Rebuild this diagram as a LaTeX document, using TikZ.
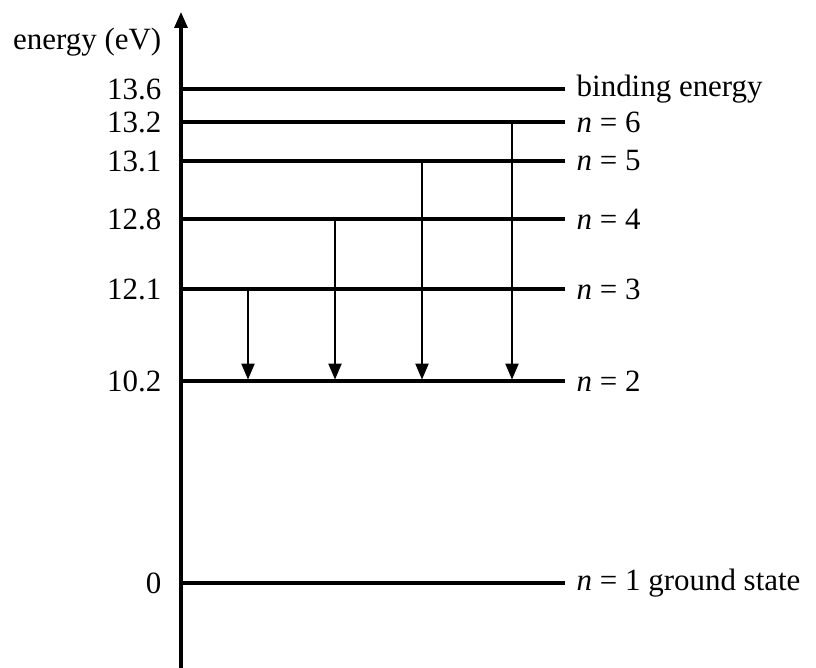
\documentclass[tikz,border=0pt]{standalone}
\usepackage{fontspec}
\setmainfont{Liberation Serif}
\usetikzlibrary{arrows.meta}

\begin{document}
\begin{tikzpicture}[x=0.01cm,y=-0.01cm,>={Triangle[length=0.16cm,width=0.13cm]}]
  \tikzstyle{level}=[line width=0.9pt]
  \tikzstyle{trans}=[line width=0.6pt,->,shorten >=0.4pt]
  \tikzstyle{val}=[anchor=east,inner sep=0pt,font=\fontsize{8.8}{11}\selectfont]
  \tikzstyle{lbl}=[anchor=west,inner sep=0pt,font=\fontsize{8.8}{11}\selectfont]
  \useasboundingbox (0,0) rectangle (816,668);
  % energy axis
  \coordinate (ax0) at (181,668);
  \coordinate (ax1) at (181,12);
  \draw[level,->] (ax0) -- (ax1);
  \node[val] (axlbl) at (162,42) {energy (eV)};
  % levels
  \foreach \y/\v/\t/\nm in {89/13.6/binding energy/lb,
                             122/13.2/{\textit{n} = 6}/l6,
                             161/13.1/{\textit{n} = 5}/l5,
                             219/12.8/{\textit{n} = 4}/l4,
                             289/12.1/{\textit{n} = 3}/l3,
                             381/10.2/{\textit{n} = 2}/l2,
                             583/0/{\textit{n} = 1 ground state}/l1}
  {
    \coordinate (\nm a) at (181,\y);
    \coordinate (\nm b) at (565,\y);
    \draw[level] (\nm a) -- (\nm b);
    \node[val] (\nm v) at (162,\y) {\v};
    \node[lbl] (\nm t) at (576,\y) {\t};
  }
  % transitions down to n=2
  \foreach \x/\nm in {248/l3,335/l4,422/l5,512/l6}
    \draw[trans] (\nm a -| \x,0) -- (l2a -| \x,0);
\end{tikzpicture}
\end{document}
